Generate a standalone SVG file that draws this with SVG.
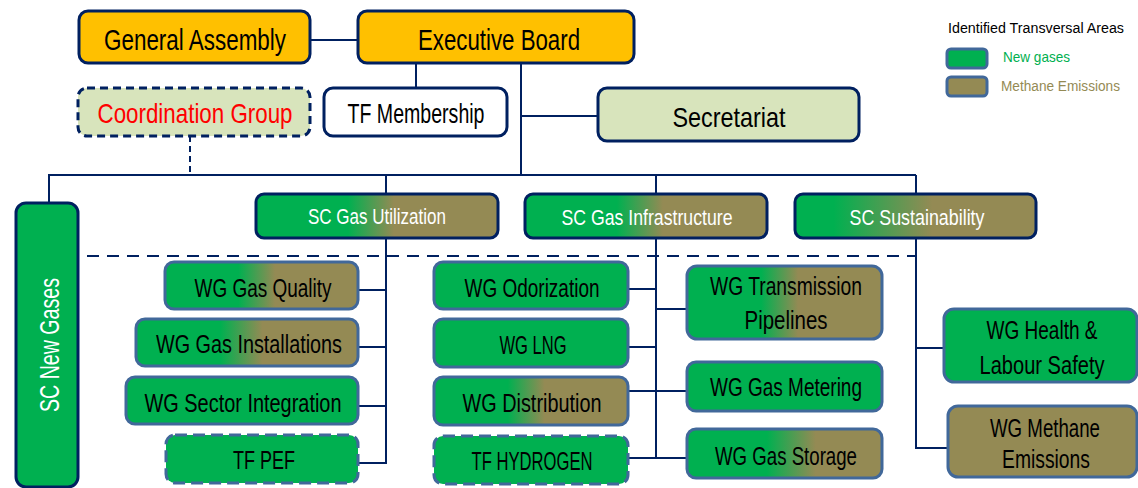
<svg xmlns="http://www.w3.org/2000/svg" width="1138" height="488" viewBox="0 0 1138 488">
<defs>
<linearGradient id="gm" x1="0" y1="0" x2="1" y2="0">
<stop offset="0.38" stop-color="#00B050"/><stop offset="0.57" stop-color="#948A54"/>
</linearGradient>
<linearGradient id="gs" x1="0" y1="0" x2="1" y2="0">
<stop offset="0.16" stop-color="#00B050"/><stop offset="0.57" stop-color="#948A54"/>
</linearGradient>
<linearGradient id="gst" x1="0" y1="0" x2="1" y2="0">
<stop offset="0.41" stop-color="#00B050"/><stop offset="0.66" stop-color="#948A54"/>
</linearGradient>
<style>
text{font-family:"Liberation Sans Narrow","Liberation Sans",Arial,sans-serif;}
.top{fill:#FFC000;stroke:#002060;stroke-width:3;}
.lg{fill:#D8E4BC;stroke:#002060;stroke-width:3;}
.wh{fill:#FFFFFF;stroke:#002060;stroke-width:3;}
.sc{stroke:#002060;stroke-width:3;}
.wg{stroke:#41689A;stroke-width:3;}
.grn{fill:#00B050;}
.olv{fill:#948A54;}
.dash{stroke-dasharray:12 6;}
.cn{fill:none;stroke:#002060;stroke-width:2;}
.t{fill:#000;text-anchor:middle;}
.tw{fill:#FFF;text-anchor:middle;}
</style>
</defs>

<g id="connectors">
<line class="cn" x1="310" y1="40" x2="358" y2="40"/>
<line class="cn" x1="416" y1="63" x2="416" y2="88"/>
<line class="cn" x1="521" y1="63" x2="521" y2="175"/>
<line class="cn" x1="521" y1="116" x2="598" y2="116"/>
<line class="cn" x1="190" y1="136" x2="190" y2="175" stroke-dasharray="6 4"/>
<polyline class="cn" points="49,203 49,175 916,175"/>
<line class="cn" x1="386" y1="175" x2="386" y2="194"/>
<line class="cn" x1="656" y1="175" x2="656" y2="194"/>
<line class="cn" x1="916" y1="175" x2="916" y2="194"/>
<line class="cn" x1="87" y1="256" x2="916" y2="256" stroke-dasharray="12 8"/>
<polyline class="cn" points="386,238 386,463 358,463"/>
<line class="cn" x1="358" y1="290" x2="386" y2="290"/>
<line class="cn" x1="358" y1="347" x2="386" y2="347"/>
<line class="cn" x1="358" y1="406" x2="386" y2="406"/>
<line class="cn" x1="656" y1="238" x2="656" y2="458"/>
<line class="cn" x1="628" y1="289" x2="656" y2="289"/>
<line class="cn" x1="628" y1="347" x2="656" y2="347"/>
<line class="cn" x1="628" y1="391" x2="687" y2="391"/>
<line class="cn" x1="628" y1="458" x2="687" y2="458"/>
<line class="cn" x1="656" y1="309" x2="687" y2="309"/>
<polyline class="cn" points="916,238 916,448 948,448"/>
<line class="cn" x1="916" y1="348" x2="944" y2="348"/>
</g>

<g id="general-assembly">
<rect class="top" x="79" y="11" width="231" height="52" rx="9"/>
<text class="t" x="195" y="50" font-size="29" textLength="182" lengthAdjust="spacingAndGlyphs">General Assembly</text>
</g>
<g id="executive-board">
<rect class="top" x="358" y="11" width="276" height="52" rx="9"/>
<text class="t" x="499" y="50" font-size="29" textLength="162" lengthAdjust="spacingAndGlyphs">Executive Board</text>
</g>
<g id="coordination-group">
<rect class="lg" x="78" y="88" width="232" height="48" rx="9" stroke-dasharray="8 5"/>
<text x="195" y="123" font-size="28" fill="#FF0000" text-anchor="middle" textLength="195" lengthAdjust="spacingAndGlyphs">Coordination Group</text>
</g>
<g id="tf-membership">
<rect class="wh" x="324" y="88" width="183" height="48" rx="9"/>
<text class="t" x="416" y="123" font-size="27" textLength="137" lengthAdjust="spacingAndGlyphs">TF Membership</text>
</g>
<g id="secretariat">
<rect class="lg" x="598" y="88" width="261" height="53" rx="9"/>
<text class="t" x="729" y="127" font-size="28" textLength="113" lengthAdjust="spacingAndGlyphs">Secretariat</text>
</g>

<g id="legend">
<text x="948" y="33" font-size="14" fill="#000" textLength="176" lengthAdjust="spacingAndGlyphs">Identified Transversal Areas</text>
<rect class="wg grn" x="947" y="49" width="40" height="19" rx="4"/>
<text x="1003" y="62" font-size="15" fill="#00B050" textLength="67" lengthAdjust="spacingAndGlyphs">New gases</text>
<rect class="wg olv" x="947" y="77" width="40" height="19" rx="4"/>
<text x="1001" y="91" font-size="14" fill="#948A54" textLength="119" lengthAdjust="spacingAndGlyphs">Methane Emissions</text>
</g>

<g id="sc-new-gases">
<rect class="sc grn" x="16" y="203" width="62" height="284" rx="10"/>
<text class="tw" transform="translate(59,345) rotate(-90)" font-size="28" textLength="134" lengthAdjust="spacingAndGlyphs">SC New Gases</text>
</g>
<g id="sc-gas-utilization">
<rect class="sc" fill="url(#gm)" x="256" y="194" width="242" height="44" rx="8"/>
<text class="tw" x="377" y="224" font-size="22" textLength="138" lengthAdjust="spacingAndGlyphs">SC Gas Utilization</text>
</g>
<g id="sc-gas-infrastructure">
<rect class="sc" fill="url(#gm)" x="525" y="194" width="242" height="44" rx="8"/>
<text class="tw" x="647" y="225" font-size="22" textLength="171" lengthAdjust="spacingAndGlyphs">SC Gas Infrastructure</text>
</g>
<g id="sc-sustainability">
<rect class="sc" fill="url(#gs)" x="795" y="194" width="241" height="44" rx="8"/>
<text class="tw" x="917" y="225" font-size="22" textLength="135" lengthAdjust="spacingAndGlyphs">SC Sustainability</text>
</g>

<g id="wg-gas-quality">
<rect class="wg" fill="url(#gm)" x="165" y="262" width="193" height="47" rx="9"/>
<text class="t" x="263" y="297" font-size="25" textLength="137" lengthAdjust="spacingAndGlyphs">WG Gas Quality</text>
</g>
<g id="wg-gas-installations">
<rect class="wg" fill="url(#gm)" x="136" y="319" width="222" height="47" rx="9"/>
<text class="t" x="249" y="353" font-size="25" textLength="186" lengthAdjust="spacingAndGlyphs">WG Gas Installations</text>
</g>
<g id="wg-sector-integration">
<rect class="wg grn" x="126" y="377" width="232" height="47" rx="9"/>
<text class="t" x="243" y="412" font-size="25" textLength="197" lengthAdjust="spacingAndGlyphs">WG Sector Integration</text>
</g>
<g id="tf-pef">
<rect class="wg grn dash" x="166" y="435" width="192" height="48" rx="9"/>
<text class="t" x="264" y="469" font-size="25" textLength="62" lengthAdjust="spacingAndGlyphs">TF PEF</text>
</g>

<g id="wg-odorization">
<rect class="wg grn" x="434" y="262" width="194" height="47" rx="9"/>
<text class="t" x="532" y="297" font-size="25" textLength="135" lengthAdjust="spacingAndGlyphs">WG Odorization</text>
</g>
<g id="wg-lng">
<rect class="wg grn" x="434" y="319" width="194" height="48" rx="9"/>
<text class="t" x="533" y="354" font-size="25" textLength="67" lengthAdjust="spacingAndGlyphs">WG LNG</text>
</g>
<g id="wg-distribution">
<rect class="wg" fill="url(#gm)" x="434" y="377" width="194" height="48" rx="9"/>
<text class="t" x="532" y="412" font-size="25" textLength="139" lengthAdjust="spacingAndGlyphs">WG Distribution</text>
</g>
<g id="tf-hydrogen">
<rect class="wg grn dash" x="434" y="436" width="194" height="48" rx="9"/>
<text class="t" x="532" y="470" font-size="25" textLength="121" lengthAdjust="spacingAndGlyphs">TF HYDROGEN</text>
</g>

<g id="wg-transmission-pipelines">
<rect class="wg" fill="url(#gm)" x="687" y="266" width="195" height="73" rx="10"/>
<text class="t" x="786" y="295" font-size="25" textLength="152" lengthAdjust="spacingAndGlyphs">WG Transmission</text>
<text class="t" x="786" y="329" font-size="25" textLength="83" lengthAdjust="spacingAndGlyphs">Pipelines</text>
</g>
<g id="wg-gas-metering">
<rect class="wg grn" x="687" y="362" width="195" height="49" rx="9"/>
<text class="t" x="786" y="396" font-size="25" textLength="152" lengthAdjust="spacingAndGlyphs">WG Gas Metering</text>
</g>
<g id="wg-gas-storage">
<rect class="wg" fill="url(#gst)" x="687" y="429" width="195" height="49" rx="9"/>
<text class="t" x="786" y="465" font-size="25" textLength="142" lengthAdjust="spacingAndGlyphs">WG Gas Storage</text>
</g>

<g id="wg-health-labour-safety">
<rect class="wg grn" x="944" y="309" width="193" height="73" rx="10"/>
<text class="t" x="1042" y="339" font-size="25" textLength="111" lengthAdjust="spacingAndGlyphs">WG Health &amp;</text>
<text class="t" x="1042" y="374" font-size="25" textLength="125" lengthAdjust="spacingAndGlyphs">Labour Safety</text>
</g>
<g id="wg-methane-emissions">
<rect class="wg olv" x="948" y="406" width="189" height="71" rx="10"/>
<text class="t" x="1045" y="437" font-size="25" textLength="110" lengthAdjust="spacingAndGlyphs">WG Methane</text>
<text class="t" x="1046" y="468" font-size="25" textLength="88" lengthAdjust="spacingAndGlyphs">Emissions</text>
</g>
</svg>
